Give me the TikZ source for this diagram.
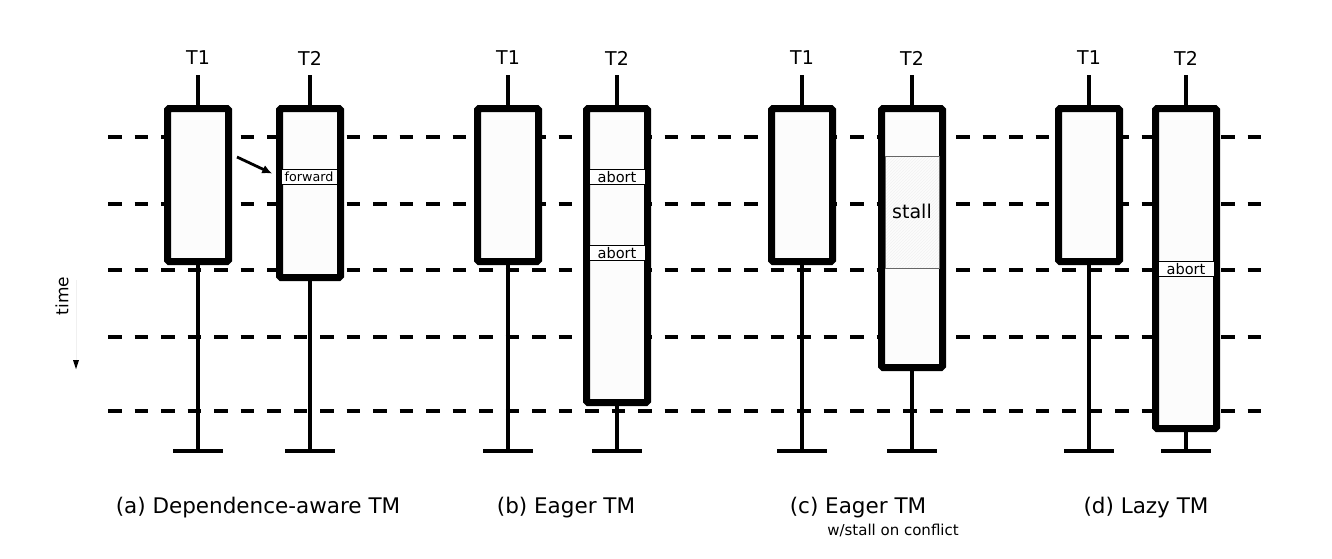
\documentclass[tikz,border=0pt]{standalone}
\usepackage{fontspec}
\setmainfont{DejaVu Sans}
\usetikzlibrary{patterns,arrows.meta}
\begin{document}
\begin{tikzpicture}[x=1pt,y=-1pt,
  txbox/.style={draw=black,line width=7pt,fill=white!99!black,rounded corners=1.5pt,minimum width=61pt,inner sep=0pt,outer sep=0pt},
  stem/.style={line width=4pt},
  bar/.style={line width=4pt},
  timeline/.style={line width=4pt,dash pattern=on 13.5pt off 13pt},
  lbl/.style={draw=black,line width=1pt,fill=white,minimum width=56pt,minimum height=15.5pt,inner sep=0pt,font=\fontsize{14.6}{14.6}\selectfont},
  tname/.style={font=\fontsize{19}{19}\selectfont},
  captxt/.style={font=\fontsize{21.5}{22}\selectfont},
  subcaptxt/.style={font=\fontsize{15}{15}\selectfont}]
\useasboundingbox (0,0) rectangle (1332,558);
% time lines
\foreach \y/\n in {137/l1,204/l2,270/l3,337/l4,411/l5}{
  \coordinate (\n s) at (108,\y);
  \coordinate (\n e) at (1265,\y);
  \draw[timeline] (\n s) -- (\n e);
}
% time axis
\node[rotate=90,font=\fontsize{17}{17}\selectfont] (time) at (62,296) {time};
\coordinate (ta) at (76,280);
\coordinate (tb) at (76,369);
\draw[draw=black!6,line width=0.6pt] (ta) -- (tb);
\fill (tb) -- ++(-3,-9) -- ++(6,0) -- cycle;
% transactions: name, center x, center y, height, top label
\foreach \n/\x/\yc/\h/\t in {a1/198/185/153/T1, a2/310/193/169/T2, b1/508/185/153/T1, b2/617/255.5/294/T2, c1/802/185/153/T1, c2/912/238/259/T2, d1/1089/185/153/T1, d2/1186/268.5/320/T2}{
  \coordinate (\n top) at (\x,75);
  \coordinate (\n bot) at (\x,451);
  \coordinate (\n bl) at (\x-25,451);
  \coordinate (\n br) at (\x+25,451);
  \node[tname] (\n lab) at (\x,58) {\t};
  \draw[stem] (\n top) -- (\n bot);
  \draw[bar] (\n bl) -- (\n br);
  \node[txbox,minimum height=\h pt] (\n) at (\x,\yc) {};
}
% (a) forward
\node[lbl,font=\fontsize{12.7}{12.7}\selectfont] (fw) at (309,177) {forward};
\coordinate (fa) at (237,157);
\draw[line width=2.8pt,-{Latex[length=10pt,width=9pt]},shorten >=8pt] (fa) -- (a2.west |- fw);
% (b) aborts
\node[lbl] (ab1) at (617,177) {abort};
\node[lbl] (ab2) at (617,253) {abort};
% (c) stall
\node[draw=black!60,line width=1pt,fill=white!99!black,pattern=north east lines,pattern color=black!5,minimum width=54pt,minimum height=112pt,inner sep=0pt] (st) at (912,212) {};
\node[font=\fontsize{19}{19}\selectfont] (stl) at (912,211) {stall};
% (d) abort
\node[lbl] (ab3) at (1186,269) {abort};
% captions
\node[captxt] (ca) at (258,508) {(a) Dependence-aware TM};
\node[captxt] (cb) at (566,508) {(b) Eager TM};
\node[captxt] (cc) at (858,508) {(c) Eager TM};
\node[subcaptxt] (ccs) at (893,530) {w/stall on conflict};
\node[captxt] (cd) at (1146,508) {(d) Lazy TM};
\end{tikzpicture}
\end{document}
